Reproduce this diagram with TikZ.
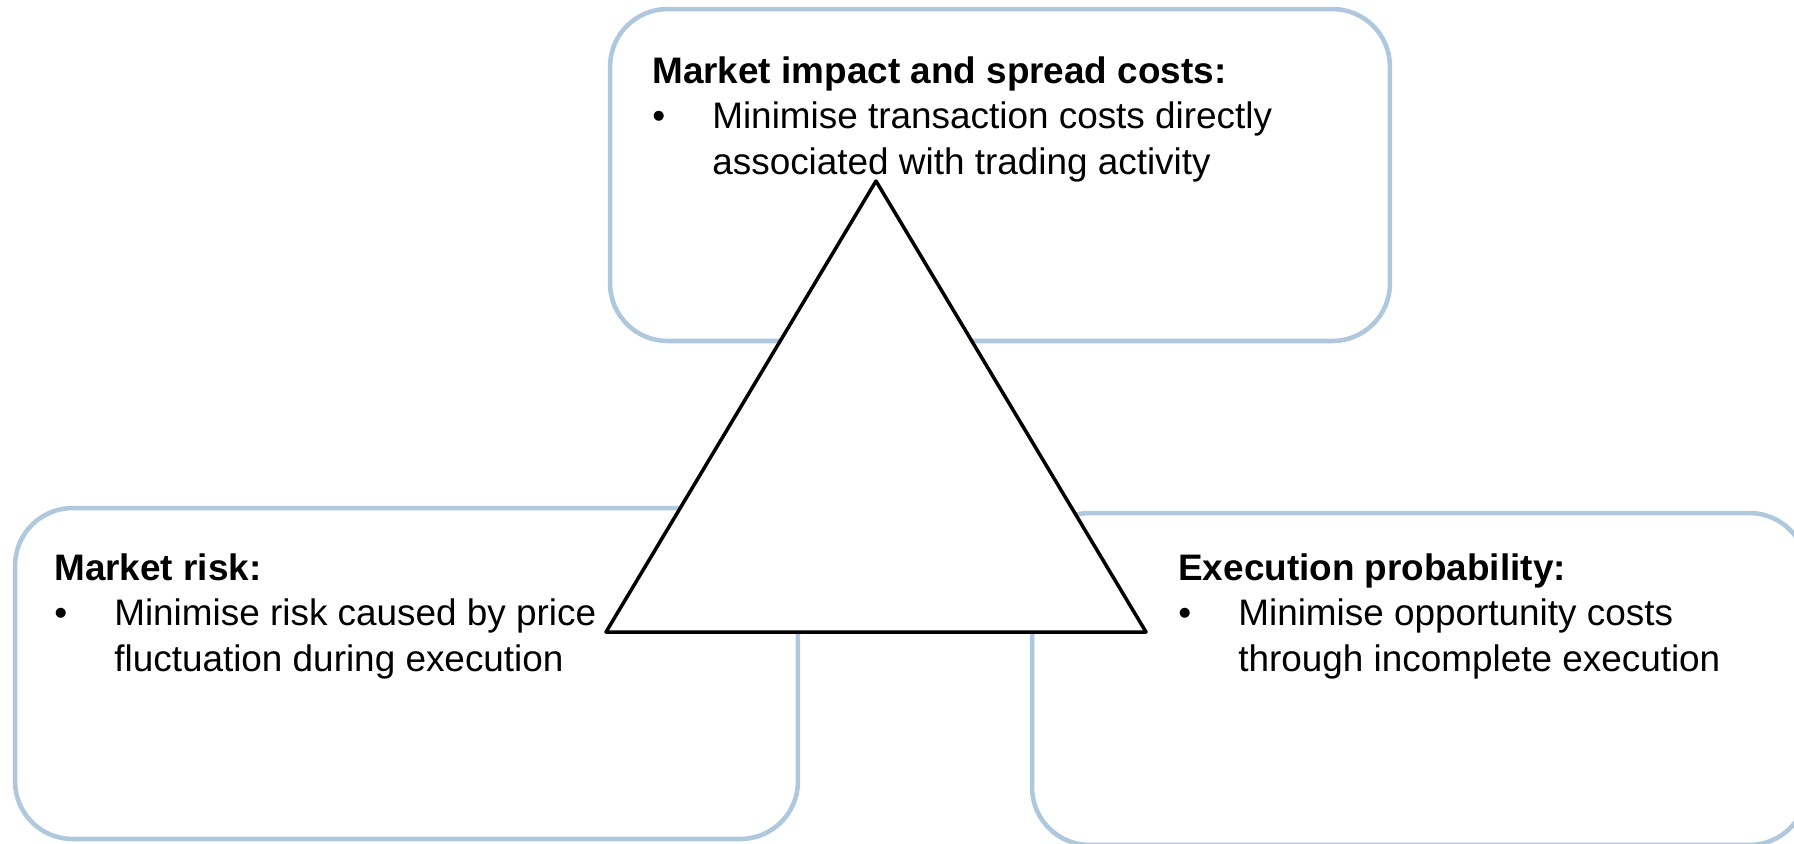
\documentclass[tikz,border=0pt]{standalone}
\usepackage{fontspec}
\setmainfont{Liberation Sans}
\usetikzlibrary{positioning}

\definecolor{boxblue}{RGB}{175,200,222}

\tikzset{
  goalbox/.style={draw=boxblue, line width=2.6pt, rounded corners=1.15cm, fill=white, inner sep=0pt},
  goaltext/.style={anchor=north west, inner sep=0pt, align=left, font=\fontsize{21}{25.9}\selectfont},
  tradeoff/.style={draw=black, line width=2pt, fill=white, line join=round}
}
\newcommand{\goalitem}[1]{\makebox[1.2cm][l]{\textbullet}#1}

\begin{document}
\begin{tikzpicture}[x=0.02cm,y=-0.02cm]
	\useasboundingbox (0,0) rectangle (1794,843);
	\clip (0,0) rectangle (1794,843);
	% boxes
	\node[goalbox, minimum width=15.6cm, minimum height=6.64cm] (cost) at (1000,175) {};
	\node[goalbox, minimum width=15.66cm, minimum height=6.62cm] (risk) at (406.5,673.5) {};
	\node[goalbox, minimum width=15.5cm, minimum height=6.64cm] (exec) at (1419.5,679) {};
	% triangle
	\coordinate (apex) at (876,181);
	\coordinate (baseL) at (606,632);
	\coordinate (baseR) at (1146,632);
	\draw[tradeoff] (apex) -- (baseL) -- (baseR) -- cycle;
	% texts
	\node[goaltext] (costtext) at (652,51) {\strut\textbf{Market impact and spread costs:}\\
		\goalitem{Minimise transaction costs directly}\\
		\hspace*{1.2cm}associated with trading activity};
	\node[goaltext] (risktext) at (54,548) {\strut\textbf{Market risk:}\\
		\goalitem{Minimise risk caused by price}\\
		\hspace*{1.2cm}fluctuation during execution};
	\node[goaltext] (exectext) at (1178,548) {\strut\textbf{Execution probability:}\\
		\goalitem{Minimise opportunity costs}\\
		\hspace*{1.2cm}through incomplete execution};
\end{tikzpicture}
\end{document}
